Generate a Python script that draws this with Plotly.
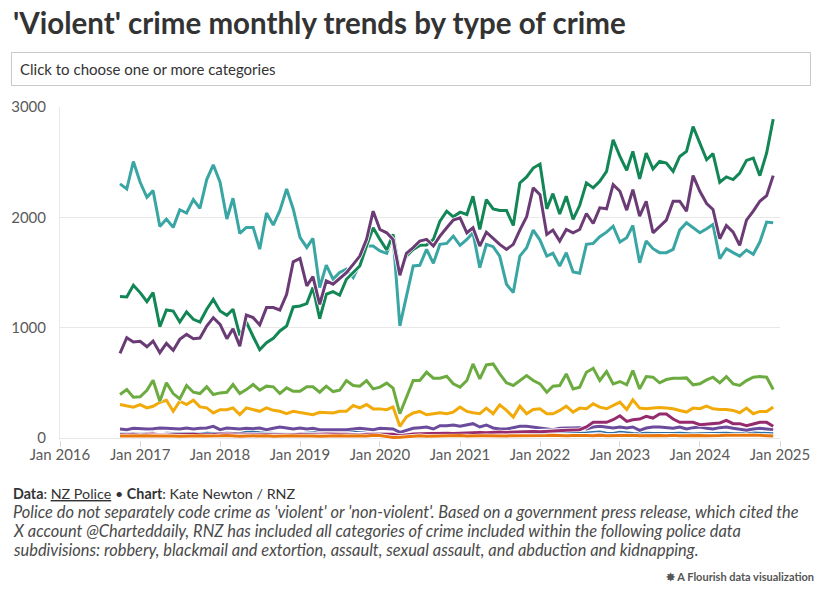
import pandas as pd
import plotly.graph_objects as go

# ---------------- data (monthly, Oct 2016 - Dec 2024) ----------------
start_month = "2016-10-01"
n_months = 99

serious_injury = [1282,1279,1385,1318,1236,1318,1009,1160,1151,1051,
                  1142,1076,1051,1167,1257,1151,1112,1167,930,1050,
                  920,800,864,903,970,1015,1188,1197,1218,1364,
                  1082,1303,1327,1294,1439,1499,1559,1740,1905,1800,
                  1704,1845,1499,1649,1709,1746,1749,1800,1966,2056,
                  2005,2047,2026,2191,1890,2161,2077,2062,2062,1926,
                  2312,2366,2447,2483,2077,2215,2030,2191,1981,2107,
                  2312,2267,2327,2417,2703,2552,2426,2598,2348,2583,
                  2438,2507,2492,2417,2552,2598,2823,2673,2522,2577,
                  2318,2366,2342,2402,2516,2537,2378,2583,2890]

serious_no_injury = [767,909,870,876,827,879,773,857,794,894,
                     939,900,906,1015,1091,1030,900,991,833,1115,
                     1091,1024,1182,1182,1160,1303,1597,1627,1379,1463,
                     1212,1424,1394,1450,1499,1574,1649,1800,2056,1890,
                     1860,1800,1475,1674,1725,1785,1800,1740,1830,1905,
                     1975,1996,1860,1905,1740,1866,1806,1755,1710,1755,
                     1884,2005,2267,2206,1845,1884,1785,1890,1860,1890,
                     2035,1944,2086,2077,2297,2236,2065,2251,2011,2146,
                     1860,1914,1975,2146,2146,2056,2378,2236,2125,2071,
                     1806,1926,1866,1746,1975,2056,2146,2197,2378]

common_assault = [2303,2257,2506,2318,2182,2242,1918,1985,1909,2069,
                  2039,2160,2082,2342,2476,2318,1985,2173,1854,1909,
                  1909,1712,2039,1930,2060,2257,2076,1818,1727,1809,
                  1364,1567,1440,1500,1530,1454,1574,1740,1740,1695,
                  1674,1830,1017,1288,1559,1565,1710,1583,1755,1764,
                  1830,1746,1800,1860,1544,1755,1734,1649,1394,1318,
                  1649,1725,1884,1794,1649,1674,1559,1680,1505,1493,
                  1755,1764,1824,1866,1920,1776,1815,1926,1589,1785,
                  1716,1680,1680,1710,1884,1950,1905,1860,1896,1935,
                  1625,1716,1680,1649,1704,1665,1776,1957,1950]

sexual_assault = [394,439,370,373,433,524,333,500,403,355,
                  476,415,403,464,394,409,415,485,403,439,
                  485,433,470,464,403,455,424,424,464,464,
                  415,470,421,433,521,476,470,521,445,461,
                  497,452,220,370,521,521,596,542,542,560,
                  491,461,521,671,536,662,671,581,500,476,
                  521,566,521,491,415,470,476,581,445,461,
                  596,632,521,602,491,512,482,611,445,557,
                  551,500,530,542,542,545,482,491,527,551,
                  500,557,491,476,521,551,557,551,440]

aggravated_robbery = [303,294,279,303,273,288,324,342,242,333,
                      303,342,282,273,227,257,257,273,212,273,
                      257,242,273,251,242,221,242,233,218,212,
                      233,227,227,242,242,294,273,303,264,264,
                      257,282,106,191,227,241,211,220,229,220,
                      235,280,241,229,220,271,220,301,250,190,
                      289,220,259,265,220,220,250,289,235,271,
                      265,310,280,265,295,325,259,346,271,265,
                      271,277,271,265,250,235,271,265,289,265,
                      259,259,250,229,271,220,241,241,280]

non_agg_sexual = [32,30,35,28,33,36,30,34,29,31,
                  35,33,30,28,32,36,34,31,29,33,
                  35,30,32,34,31,29,33,35,32,30,
                  34,36,31,33,35,32,30,34,33,31,
                  35,33,20,30,36,38,40,37,42,44,
                  41,45,48,46,50,47,52,55,51,54,
                  58,56,60,57,62,65,68,70,72,75,
                  100,142,142,142,166,202,151,166,172,196,
                  181,217,217,172,142,142,142,121,127,127,
                  136,160,130,130,112,127,142,142,106]

non_agg_robbery = [82,76,88,82,82,85,91,88,82,82,
                   91,82,88,91,106,76,91,85,82,88,
                   85,91,76,88,100,91,82,91,82,88,
                   76,76,76,70,76,82,88,82,76,88,
                   88,82,51,70,88,94,100,82,112,112,
                   118,106,118,130,100,118,91,82,82,91,
                   106,106,100,88,82,76,88,91,91,94,
                   82,100,106,100,91,100,91,100,70,91,
                   100,100,94,88,100,82,94,100,88,82,
                   94,100,88,82,70,82,88,82,76]

abduction = [48,46,50,45,47,49,44,50,47,45,
             48,46,44,49,47,45,50,48,46,58,
             60,55,50,47,45,48,44,46,50,55,
             58,60,62,57,55,58,52,50,48,46,
             44,42,20,30,38,42,45,40,44,46,
             42,45,48,44,46,50,47,45,43,48,
             46,44,48,50,47,45,49,48,46,50,
             52,55,62,50,48,60,52,47,45,50,
             48,46,44,47,50,45,43,46,48,44,
             46,50,45,43,47,52,48,50,46]

blackmail = [36,34,38,33,35,37,34,36,33,35,
             38,35,34,36,33,37,35,34,36,38,
             35,33,36,34,37,35,33,36,34,35,
             37,34,36,33,35,38,34,36,35,33,
             36,34,22,30,34,36,35,37,34,36,
             38,35,37,34,36,38,35,37,39,36,
             38,36,40,37,39,41,38,40,42,39,
             41,43,40,42,44,41,43,40,42,44,
             41,43,45,42,40,43,41,44,42,40,
             43,41,44,42,40,43,45,42,40]

kidnapping = [18,20,17,19,21,18,20,22,19,17,
              20,18,21,19,17,20,22,18,16,19,
              21,18,20,17,19,22,20,18,21,19,
              17,20,18,21,19,22,20,18,25,22,
              15,5,8,14,18,20,17,19,21,18,
              20,22,19,17,21,20,18,22,19,21,
              20,23,21,19,22,24,21,20,23,25,
              22,20,24,21,23,26,22,24,21,23,
              25,22,20,24,21,23,26,22,20,24,
              22,25,23,21,24,27,23,21,18]

y_tick_values = [0, 1000, 2000, 3000]
x_tick_labels = ["Jan 2016", "Jan 2017", "Jan 2018", "Jan 2019", "Jan 2020",
                 "Jan 2021", "Jan 2022", "Jan 2023", "Jan 2024", "Jan 2025"]
x_tick_dates = ["2016-01-01", "2017-01-01", "2018-01-01", "2019-01-01", "2020-01-01",
                "2021-01-01", "2022-01-01", "2023-01-01", "2024-01-01", "2025-01-01"]

months = pd.date_range(start_month, periods=n_months, freq="MS")

# drawing order: bottom -> top  (name, values, colour, width)
series = [
    ("Blackmail and extortion", blackmail, "#eaa3c6", 1.5),
    ("Abduction", abduction, "#2c6ea6", 1.5),
    ("Non-aggravated robbery", non_agg_robbery, "#6a4b9c", 3),
    ("Non-aggravated sexual assault", non_agg_sexual, "#952b6e", 3),
    ("Kidnapping and abduction", kidnapping, "#e8780e", 3),
    ("Aggravated robbery", aggravated_robbery, "#f1aa0a", 3),
    ("Sexual assault", sexual_assault, "#6cab3f", 3),
    ("Common assault", common_assault, "#3aa6a4", 3),
    ("Serious assault resulting in injury", serious_injury, "#138656", 3),
    ("Serious assault not resulting in injury", serious_no_injury, "#6a3b74", 3),
]

fig = go.Figure()
for name, vals, col, w in series:
    fig.add_trace(go.Scatter(x=months, y=vals, mode="lines",
                             line=dict(color="white", width=w + 1.5),
                             hoverinfo="skip", showlegend=False))
    fig.add_trace(go.Scatter(x=months, y=vals, mode="lines", name=name,
                             line=dict(color=col, width=w),
                             showlegend=False))

W, H = 830, 592
L, R, T, B = 60, 50, 107, 152
pw, ph = W - L - R, H - T - B


def px(x):
    return (x - L) / pw


def py(y):
    return (H - B - y) / ph


font_main = "Lato, 'Open Sans', sans-serif"

fig.update_layout(
    width=W, height=H,
    margin=dict(l=L, r=R, t=T, b=B, autoexpand=False),
    paper_bgcolor="white", plot_bgcolor="white",
    font=dict(family=font_main, color="#333333"),
    xaxis=dict(range=["2016-01-01", "2025-01-01"], tickvals=x_tick_dates,
               ticktext=x_tick_labels, showgrid=False, zeroline=False,
               showline=False, ticks="outside", ticklen=6, tickcolor="#dcdcdc",
               ticklabelstandoff=-5,
               tickfont=dict(size=15, color="#5a5a5a", family=font_main)),
    yaxis=dict(range=[-18, 3000], tickvals=y_tick_values, showgrid=True,
               gridcolor="#e8e8e8", gridwidth=1, zeroline=False,
               showline=True, linecolor="#e8e8e8", linewidth=1,
               ticks="", ticklabelstandoff=10,
               tickfont=dict(size=15, color="#5a5a5a", family=font_main)),
    hovermode="x",
)

# title
fig.add_annotation(x=px(11), y=py(22), xref="paper", yref="paper",
                   xanchor="left", yanchor="middle", showarrow=False,
                   text="'Violent' crime monthly trends by type of crime",
                   font=dict(size=29.5, color="#333333", family=font_main, weight=700))

# dropdown box
fig.add_shape(type="rect", xref="paper", yref="paper",
              x0=px(11.5), x1=px(810.5), y0=py(85.5), y1=py(52.5),
              line=dict(color="#c9c9c9", width=1), fillcolor="white", layer="above")
fig.add_annotation(x=px(18), y=py(69), xref="paper", yref="paper",
                   xanchor="left", yanchor="middle", showarrow=False,
                   text="Click to choose one or more categories",
                   font=dict(size=15, color="#333333", family=font_main))

# footer
fig.add_annotation(x=px(11), y=py(493), xref="paper", yref="paper",
                   xanchor="left", yanchor="middle", showarrow=False,
                   text="<b>Data</b>: <span style='text-decoration:underline'>NZ Police</span> • <b>Chart</b>: Kate Newton / RNZ",
                   font=dict(size=14.3, color="#333333", family=font_main))
notes = [
    "Police do not separately code crime as 'violent' or 'non-violent'. Based on a government press release, which cited the",
    "X account @Charteddaily, RNZ has included all categories of crime included within the following police data",
    "subdivisions: robbery, blackmail and extortion, assault, sexual assault, and abduction and kidnapping.",
]
for i, line in enumerate(notes):
    fig.add_annotation(x=px(11), y=py(511 + 19 * i), xref="paper", yref="paper",
                       xanchor="left", yanchor="middle", showarrow=False,
                       text="<i>" + line + "</i>",
                       font=dict(size=16.4, color="#4a4a4a", family=font_main))

fig.add_annotation(x=px(816), y=py(576), xref="paper", yref="paper",
                   xanchor="right", yanchor="middle", showarrow=False,
                   text="✸ A Flourish data visualization",
                   font=dict(size=11, color="#555555", family=font_main, weight=700))

fig.write_html("out.html")
